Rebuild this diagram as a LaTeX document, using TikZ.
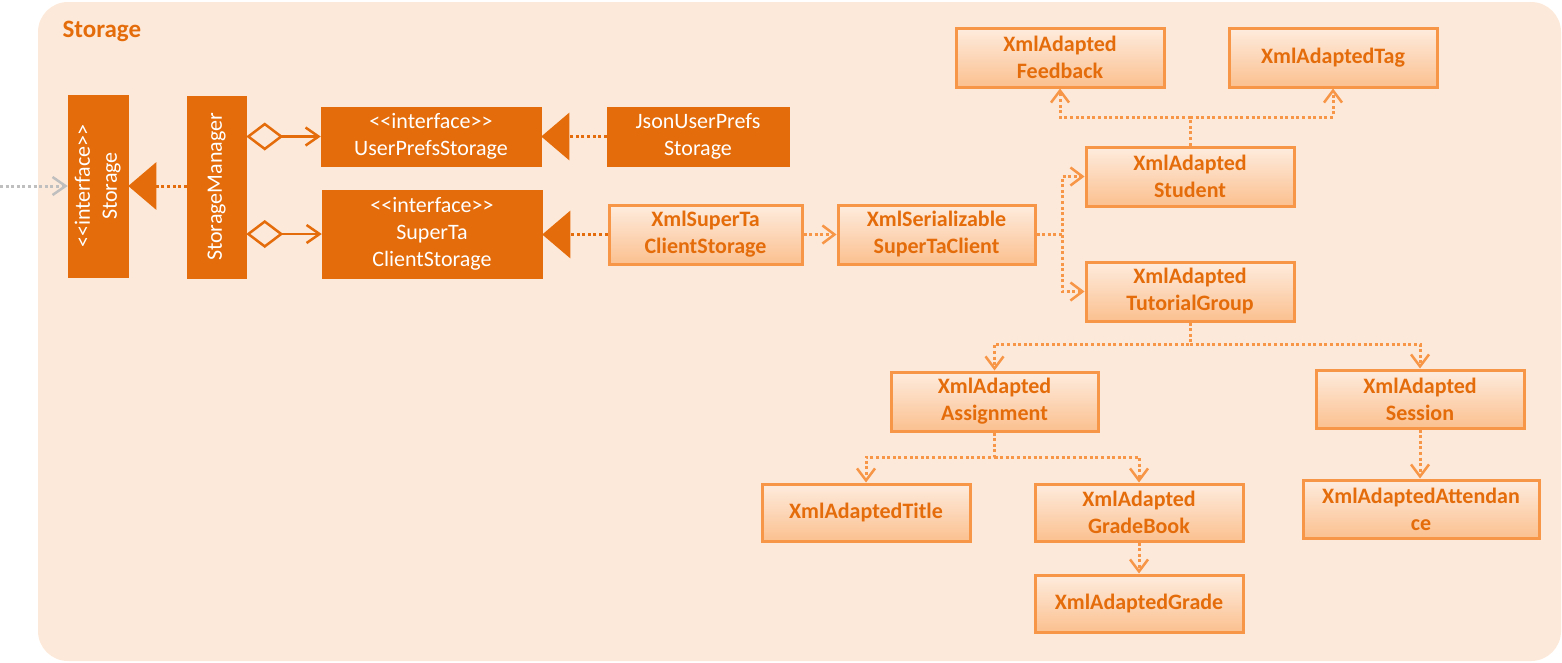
\documentclass[tikz,border=0pt]{standalone}
\usepackage{fontspec}
\newfontfamily\cfont{Carlito}
\usetikzlibrary{arrows.meta}
\definecolor{darkor}{RGB}{228,108,10}
\definecolor{lightor}{RGB}{247,150,70}
\definecolor{bgcol}{RGB}{253,233,217}
\definecolor{gtop}{RGB}{254,236,222}
\definecolor{gbot}{RGB}{251,192,143}
\definecolor{greyln}{RGB}{191,191,191}
\tikzset{
  darkbox/.style={rectangle, fill=darkor, draw=darkor, line width=0.5pt, inner sep=0pt, text=white, align=center,
    font=\cfont\fontsize{22}{27}\selectfont},
  lightbox/.style={rectangle, top color=gtop, bottom color=gbot, draw=lightor, line width=3pt, inner sep=0pt, text=darkor, align=center,
    font=\cfont\bfseries\fontsize{22}{27}\selectfont},
  dotline/.style={line width=3pt, dash pattern=on 3pt off 2.6pt},
  darkdot/.style={dotline, draw=darkor},
  lightdot/.style={dotline, draw=lightor, -{Straight Barb[length=12pt,width=18pt,line width=2.5pt]}},
  realize/.style={darkdot, -{Triangle[length=28pt,width=47pt,fill=darkor]}},
  aggr/.style={line width=2.5pt, draw=darkor, {Diamond[length=37pt,width=28pt,fill=bgcol,line width=2.5pt]}-{Straight Barb[length=13pt,width=18pt,line width=2.5pt]}},
}
\begin{document}
\begin{tikzpicture}[x=1pt,y=-1pt]
\useasboundingbox (0,0) rectangle (1562,662);
\fill[bgcol, rounded corners=30pt] (38,2) rectangle (1561,661);
\node[text=darkor, font=\cfont\bfseries\fontsize{25}{29}\selectfont, anchor=west] (title) at (59,31) {Storage};

\node[darkbox, minimum width=60pt, minimum height=182pt] (storage) at (98,186)
  {\rotatebox{90}{\begin{tabular}{@{}c@{}}<<interface>>\\Storage\end{tabular}}};
\node[darkbox, minimum width=59pt, minimum height=182pt] (mgr) at (216.5,187)
  {\rotatebox{90}{StorageManager}};
\node[darkbox, minimum width=220pt, minimum height=59pt] (ups) at (431,136.5) {<<interface>>\\UserPrefsStorage};
\node[darkbox, minimum width=220pt, minimum height=88pt] (stcs) at (432,234) {<<interface>>\\SuperTa\\ClientStorage};
\node[darkbox, minimum width=182pt, minimum height=59pt] (json) at (698,136.5) {JsonUserPrefs\\Storage};

\node[lightbox, minimum width=193pt, minimum height=59pt] (xstcs) at (705.5,234.5) {XmlSuperTa\\ClientStorage};
\node[lightbox, minimum width=197pt, minimum height=59pt] (xser) at (936.5,234.5) {XmlSerializable\\SuperTaClient};
\node[lightbox, minimum width=208pt, minimum height=59pt] (fb) at (1060,57.5) {XmlAdapted\\Feedback};
\node[lightbox, minimum width=208pt, minimum height=59pt] (tag) at (1333,57.5) {XmlAdaptedTag};
\node[lightbox, minimum width=208pt, minimum height=59pt] (stu) at (1190,176.5) {XmlAdapted\\Student};
\node[lightbox, minimum width=208pt, minimum height=59pt] (tg) at (1190,291.5) {XmlAdapted\\TutorialGroup};
\node[lightbox, minimum width=207pt, minimum height=59pt] (asg) at (994.5,401.5) {XmlAdapted\\Assignment};
\node[lightbox, minimum width=208pt, minimum height=58pt] (ses) at (1420,399) {XmlAdapted\\Session};
\node[lightbox, minimum width=208pt, minimum height=57pt] (ttl) at (866,512.5) {XmlAdaptedTitle};
\node[lightbox, minimum width=208pt, minimum height=57pt] (gb) at (1139,512.5) {XmlAdapted\\GradeBook};
\node[lightbox, minimum width=208pt, minimum height=57pt] (grade) at (1139,603.5) {XmlAdaptedGrade};
\node[lightbox, minimum width=236pt, minimum height=58pt] (att) at (1421,509) {XmlAdaptedAttendan\\ce};

% connectors
\coordinate (ext) at (0,186);
\draw[dotline, draw=greyln, -{Straight Barb[length=13pt,width=18pt,line width=2.5pt]}] (ext) -- (storage.west);
\draw[realize] (mgr.west |- storage.east) -- (storage.east);
\draw[aggr] (mgr.east |- ups.west) -- (ups.west);
\draw[aggr] (mgr.east |- stcs.west) -- (stcs.west);
\draw[realize] (json.west) -- (ups.east);
\draw[realize] (xstcs.west) -- (xstcs.west -| stcs.east);
\draw[lightdot] (xstcs.east) -- (xser.west);
\coordinate (j1) at (1062,234.5);
\draw[lightdot] (xser.east) -- (j1) |- (stu.west);
\draw[lightdot] (j1) |- (tg.west);
\coordinate (j2) at (1190,117);
\draw[lightdot] (stu.north) -- (j2) -| (fb.south);
\draw[lightdot] (j2) -| (tag.south);
\coordinate (j3) at (1190,344);
\draw[lightdot] (tg.south) -- (j3) -| (asg.north);
\draw[lightdot] (j3) -| (ses.north);
\coordinate (j4) at (994.5,457);
\draw[lightdot] (asg.south) -- (j4) -| (ttl.north);
\draw[lightdot] (j4) -| (gb.north);
\draw[lightdot] (gb.south) -- (grade.north);
\draw[lightdot] (ses.south) -- (ses.south |- att.north);
\end{tikzpicture}
\end{document}
